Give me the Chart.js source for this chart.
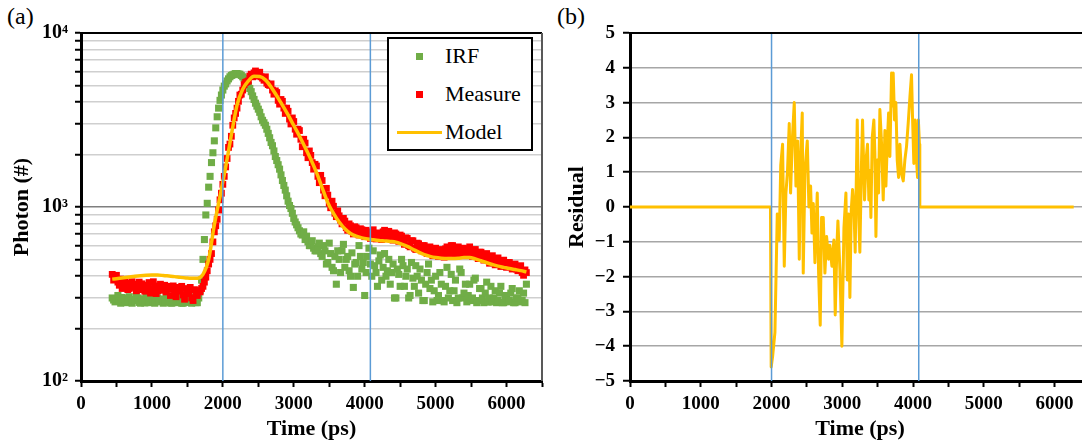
<!DOCTYPE html>
<html lang="en">
<head>
<meta charset="utf-8">
<title>IRF, measured decay, model and residual</title>
<script src="https://cdn.jsdelivr.net/npm/chart.js@4.4.1/dist/chart.umd.min.js"></script>
<style>
  html, body { margin: 0; padding: 0; background: #fff; }
  body {
    position: relative;
    width: 1082px;
    height: 448px;
    overflow: hidden;
    font-family: 'Liberation Serif', 'Times New Roman', serif;
    color: #000;
  }
  canvas { position: absolute; top: 0; }
  #fitChart { left: 0; }
  #residualChart { left: 548px; }
  .panel-tag { position: absolute; top: 4px; font-size: 24px; line-height: 24px; }
  .legend {
    position: absolute;
    left: 387px;
    top: 37px;
    width: 142px;
    height: 110px;
    border: 2px solid #000;
    background: #fff;
    font-size: 22px;
  }
  .legend-row { position: absolute; left: 0; right: 0; height: 38px; line-height: 38px; }
  .legend-square { position: absolute; left: 27px; top: 15.5px; width: 7px; height: 7px; }
  .legend-line { position: absolute; left: 8px; top: 17.5px; width: 45px; height: 3px; }
  .legend-text { position: absolute; left: 56px; top: 0; }
</style>
</head>
<body>
<div class="panel-tag" style="left: 7px;">(a)</div>
<div class="panel-tag" style="left: 557px;">(b)</div>
<canvas id="fitChart" width="548" height="448"></canvas>
<canvas id="residualChart" width="548" height="448"></canvas>
<div id="fitLegend" class="legend"></div>

<script>
// time bins (ps) shared by IRF and measured decay
const binStart = 440;
const binWidth = 20;

// IRF photon counts
const irfCounts = [
  300, 292, 285, 296, 310, 288, 280, 302, 295, 284,
  282, 298, 305, 287, 280, 294, 290, 306, 300, 283,
  280, 297, 288, 281, 310, 292, 282, 300, 295, 286,
  280, 303, 300, 289, 285, 296, 280, 284, 305, 291,
  290, 281, 280, 299, 298, 286, 282, 301, 292, 280,
  280, 294, 300, 283, 285, 304, 280, 290, 296, 282,
  282, 300, 330, 380, 500, 650, 900, 1050, 1300, 1500,
  1800, 2050, 2400, 2850, 3300, 3700, 4100, 4400, 4700, 4950,
  5100, 5300, 5450, 5600, 5700, 5750, 5800, 5850, 5850, 5800,
  5800, 5700, 5600, 5500, 5350, 5200, 5000, 4800, 4600, 4350,
  4150, 3950, 3800, 3650, 3500, 3300, 3150, 3050, 2950, 2800,
  2650, 2500, 2350, 2250, 2100, 1950, 1850, 1750, 1650, 1530,
  1420, 1330, 1250, 1160, 1080, 1020, 980, 920, 860, 820,
  790, 760, 730, 700, 690, 720, 650, 680, 630, 600,
  600, 640, 580, 560, 560, 590, 620, 540, 520, 600,
  560, 470, 480, 620, 540, 450, 430, 520, 360, 560,
  500, 420, 560, 610, 450, 500, 520, 430, 400, 545,
  345, 470, 480, 400, 600, 520, 440, 480, 310, 420,
  520, 580, 470, 400, 560, 460, 420, 350, 490, 530,
  380, 450, 540, 400, 430, 500, 360, 420, 470, 300,
  300, 440, 410, 350, 500, 460, 350, 400, 440, 300,
  310, 480, 390, 350, 460, 400, 320, 440, 380, 290,
  290, 360, 420, 470, 340, 380, 285, 330, 400, 290,
  310, 420, 360, 290, 285, 350, 450, 300, 330, 410,
  290, 330, 380, 282, 300, 440, 420, 300, 320, 360,
  285, 310, 360, 290, 300, 380, 390, 282, 290, 340,
  340, 300, 282, 320, 370, 284, 300, 350, 285, 300,
  330, 282, 290, 320, 350, 282, 282, 300, 310, 285,
  290, 320, 340, 282, 282, 300, 300, 330, 285, 290,
  320, 282, 360
];

// measured photon counts, same bins
const measureCounts = [
  410, 380, 395, 405, 370, 355, 385, 340, 350, 378,
  365, 335, 340, 360, 372, 345, 348, 330, 360, 370,
  335, 362, 355, 328, 342, 350, 368, 320, 338, 372,
  352, 318, 330, 345, 360, 332, 345, 355, 325, 340,
  350, 310, 338, 352, 322, 305, 345, 328, 330, 350,
  312, 295, 340, 322, 318, 345, 300, 290, 335, 315,
  310, 330, 325, 340, 350, 370, 395, 430, 470, 500,
  540, 630, 720, 780, 850, 960, 1100, 1200, 1350, 1500,
  1700, 1900, 2200, 2300, 2550, 2950, 3250, 3450, 3700, 4050,
  4400, 4450, 4700, 5050, 5200, 5250, 5300, 5650, 5800, 5600,
  5900, 6050, 5650, 5750, 5950, 5600, 5500, 5350, 5600, 5150,
  5050, 5000, 5100, 4700, 4450, 4650, 4550, 4100, 3900, 4150,
  4050, 3700, 3450, 3700, 3550, 3200, 3000, 3250, 3100, 2800,
  2620, 2800, 2750, 2450, 2220, 2450, 2330, 2050, 1920, 2100,
  1980, 1800, 1650, 1760, 1720, 1500, 1380, 1520, 1420, 1250,
  1160, 1280, 1170, 1050, 990, 1080, 1010, 920, 880, 950,
  890, 840, 800, 860, 830, 760, 735, 800, 780, 725,
  700, 770, 760, 705, 690, 750, 740, 700, 675, 735,
  720, 690, 660, 715, 740, 680, 655, 700, 710, 665,
  650, 720, 735, 690, 660, 725, 700, 670, 645, 710,
  700, 660, 635, 690, 680, 640, 610, 665, 660, 600,
  590, 640, 640, 580, 570, 620, 615, 575, 560, 600,
  600, 565, 540, 580, 590, 545, 525, 570, 580, 530,
  520, 560, 570, 530, 515, 575, 590, 555, 540, 600,
  600, 560, 520, 585, 590, 545, 530, 580, 575, 535,
  525, 575, 590, 540, 520, 565, 570, 530, 505, 550,
  550, 520, 495, 535, 540, 500, 475, 515, 525, 480,
  465, 505, 510, 470, 455, 490, 495, 460, 450, 480,
  480, 455, 440, 465, 470, 440, 430, 450, 460, 420,
  405, 435, 420
];

// fitted model, sampled every 80 ps from 440 ps
const modelStart = 440;
const modelStep = 80;
const modelCounts = [
  385, 388, 392, 396, 400, 403, 405, 406, 406, 404,
  401, 398, 394, 391, 389, 390, 410, 500, 790, 1150,
  1700, 2600, 3850, 4750, 5300, 5640, 5620, 5380, 4900, 4350,
  3850, 3380, 2940, 2560, 2200, 1880, 1580, 1290, 1060, 920,
  820, 750, 705, 680, 665, 655, 648, 642, 638, 634,
  628, 612, 594, 572, 550, 532, 520, 512, 508, 506,
  506, 508, 512, 512, 503, 491, 478, 467, 457, 450,
  443, 437, 431, 424
];

// residual of the fit, panel (b)
const residualTimes = [
  0, 1985, 1995, 2015, 2048, 2081, 2109, 2130, 2156, 2180,
  2203, 2225, 2250, 2269, 2293, 2321, 2345, 2368, 2392, 2410,
  2434, 2448, 2472, 2505, 2528, 2552, 2571, 2590, 2613, 2646,
  2665, 2688, 2707, 2731, 2754, 2778, 2806, 2825, 2853, 2881,
  2900, 2924, 2938, 2966, 2994, 3023, 3051, 3070, 3089, 3107,
  3126, 3145, 3164, 3182, 3211, 3234, 3248, 3272, 3286, 3314,
  3335, 3356, 3375, 3390, 3404, 3423, 3446, 3460, 3475, 3494,
  3512, 3531, 3555, 3578, 3602, 3616, 3635, 3654, 3672, 3696,
  3710, 3719, 3738, 3757, 3776, 3795, 3814, 3837, 3861, 3884,
  3908, 3931, 3955, 3978, 3992, 4011, 4030, 4049, 4063, 4075,
  4090, 4095, 6270
];
const residualValues = [
  0, 0, -4.6, -4.3, -3.6, -0.2, -0.95, 1.2, 1.8, -1.7,
  0.4, 1.0, 2.4, 0.4, 1.9, 3.0, 0.6, 1.9, -1.5, 1.45,
  2.7, -1.9, 1.05, 1.9, 0.0, 0.6, -0.75, 0.1, -1.6, 0.4,
  -1.9, -3.4, -0.3, -0.3, -1.9, -0.85, -1.5, -1.1, -1.7, -0.95,
  -3.1, -1.1, -0.4, -1.8, -4.0, -0.6, 0.4, -2.1, -0.2, -2.6,
  -0.1, 0.5, 0.0, -1.3, 2.5, -0.4, -1.3, 1.35, 2.5, 0.2,
  1.35, 1.8, 0.2, 1.05, -0.3, 2.0, 2.5, 1.55, -0.85, 1.35,
  0.4, 2.8, 1.8, 0.2, 2.2, 0.6, 1.8, 2.7, 1.45, 3.85,
  2.9, 3.85, 2.5, 3.0, 1.35, 0.85, 1.8, 0.95, 0.75, 1.35,
  1.75, 2.4, 3.15, 3.8, 2.6, 1.25, 2.5, 1.35, 0.85, 2.5,
  1.8, 0, 0
];

// fit window edges (ps), the two blue markers
const fitWindow = [2000, 4080];

// axes
const timeRange = { min: 0, max: 6500, step: 500, labelEvery: 1000 };
const photonTicks = [
  100, 200, 300, 400, 500, 600, 700, 800, 900,
  1000, 2000, 3000, 4000, 5000, 6000, 7000, 8000, 9000, 10000
];
const photonDecades = { 100: '10\u00B2', 1000: '10\u00B3', 10000: '10\u2074' };
const residualRange = { min: -5, max: 5, step: 1 };

const colors = {
  irf: '#70AD47',
  measure: '#FF0000',
  model: '#FFC000',
  window: '#5B9BD5'
};

const serif = "'Liberation Serif', 'Times New Roman', serif";
Chart.defaults.font.family = serif;
Chart.defaults.color = '#000';

const tickFont = { size: 19, weight: 'bold' };
const titleFont = { size: 22, weight: 'bold' };

function toPoints(values, start, step) {
  return values.map((y, i) => ({ x: start + i * step, y: y }));
}

function windowLines(yMin, yMax) {
  return fitWindow.map((t) => ({
    label: '',
    data: [{ x: t, y: yMin }, { x: t, y: yMax }],
    showLine: true,
    borderColor: colors.window,
    borderWidth: 1.5,
    pointRadius: 0,
    order: 0
  }));
}

function timeAxis() {
  return {
    type: 'linear',
    min: timeRange.min,
    max: timeRange.max,
    afterFit: (scale) => { scale.height = 67; },
    ticks: {
      stepSize: timeRange.step,
      autoSkip: false,
      maxRotation: 0,
      padding: 6,
      font: tickFont,
      callback: (v) => (v % timeRange.labelEvery === 0 ? String(v) : '')
    },
    grid: { drawOnChartArea: false, tickLength: 6, tickWidth: 2, tickColor: '#000' },
    border: { color: '#000', width: 3 },
    title: { display: true, text: 'Time (ps)', font: titleFont, padding: { top: 0, bottom: 5 } }
  };
}

// top and right edges of the plot box
const frame = {
  id: 'frame',
  afterDraw(chart) {
    const { ctx, chartArea } = chart;
    ctx.save();
    ctx.lineWidth = 2;
    ctx.strokeStyle = '#000';
    ctx.beginPath();
    ctx.moveTo(chartArea.left, chartArea.top);
    ctx.lineTo(chartArea.right, chartArea.top);
    ctx.stroke();
    ctx.strokeStyle = '#595959';
    ctx.beginPath();
    ctx.moveTo(chartArea.right, chartArea.top);
    ctx.lineTo(chartArea.right, chartArea.bottom);
    ctx.stroke();
    ctx.restore();
  }
};

const commonOptions = {
  responsive: false,
  animation: false,
  events: [],
  plugins: { legend: { display: false }, tooltip: { enabled: false } }
};

// panel (a)
const fitDatasets = [
  {
    label: 'IRF',
    data: toPoints(irfCounts, binStart, binWidth),
    pointStyle: 'rect',
    pointRadius: 5,
    pointBorderWidth: 0,
    backgroundColor: colors.irf,
    borderColor: colors.irf,
    order: 3
  },
  {
    label: 'Measure',
    data: toPoints(measureCounts, binStart, binWidth),
    pointStyle: 'rect',
    pointRadius: 4.8,
    pointBorderWidth: 0,
    backgroundColor: colors.measure,
    borderColor: colors.measure,
    order: 2
  },
  {
    label: 'Model',
    data: toPoints(modelCounts, modelStart, modelStep),
    showLine: true,
    borderColor: colors.model,
    backgroundColor: colors.model,
    borderWidth: 3.5,
    pointRadius: 0,
    cubicInterpolationMode: 'monotone',
    order: 1
  }
];

new Chart(document.getElementById('fitChart'), {
  type: 'scatter',
  data: {
    datasets: fitDatasets.concat(windowLines(photonTicks[0], photonTicks[photonTicks.length - 1]))
  },
  options: Object.assign({}, commonOptions, {
    layout: { padding: { top: 33, right: 6, left: 0, bottom: 0 } },
    scales: {
      x: timeAxis(),
      y: {
        type: 'logarithmic',
        min: photonTicks[0],
        max: photonTicks[photonTicks.length - 1],
        afterFit: (scale) => { scale.width = 81; },
        afterBuildTicks: (scale) => {
          scale.ticks = photonTicks.map((value) => ({ value: value, major: value in photonDecades }));
        },
        ticks: {
          autoSkip: false,
          padding: 7,
          font: { size: 20, weight: 'bold' },
          callback: (v) => photonDecades[v] || ''
        },
        grid: {
          color: (ctx) => (ctx.tick && photonDecades[ctx.tick.value] ? '#7f7f7f' : '#cfcfcf'),
          lineWidth: 1.5,
          tickLength: 6,
          tickWidth: 2,
          tickColor: '#000'
        },
        border: { color: '#000', width: 3 },
        title: { display: true, text: 'Photon (#)', font: titleFont, padding: { top: 9, bottom: 0 } }
      }
    }
  }),
  plugins: [frame]
});

// panel (b)
new Chart(document.getElementById('residualChart'), {
  type: 'scatter',
  data: {
    datasets: [
      {
        label: 'Residual',
        data: residualTimes.map((t, i) => ({ x: t, y: residualValues[i] })),
        showLine: true,
        borderColor: colors.model,
        backgroundColor: colors.model,
        borderWidth: 3,
        borderJoinStyle: 'round',
        pointRadius: 0,
        order: 1
      }
    ].concat(windowLines(residualRange.min, residualRange.max))
  },
  options: Object.assign({}, commonOptions, {
    layout: { padding: { top: 33, right: 6, left: 0, bottom: 0 } },
    scales: {
      x: timeAxis(),
      y: {
        type: 'linear',
        min: residualRange.min,
        max: residualRange.max,
        afterFit: (scale) => { scale.width = 82; },
        ticks: {
          stepSize: residualRange.step,
          autoSkip: false,
          padding: 8,
          font: tickFont,
          callback: (v) => (v < 0 ? '\u2212' + Math.abs(v) : String(v))
        },
        grid: { color: '#a6a6a6', lineWidth: 1.5, tickLength: 7, tickWidth: 2, tickColor: '#000' },
        border: { color: '#000', width: 3 },
        title: { display: true, text: 'Residual', font: titleFont, padding: { top: 16, bottom: 0 } }
      }
    }
  }),
  plugins: [frame]
});

// legend box inside panel (a)
const legendBox = document.getElementById('fitLegend');
fitDatasets.forEach((ds, i) => {
  const row = document.createElement('div');
  row.className = 'legend-row';
  row.style.top = (i * 38 - 2) + 'px';

  const swatch = document.createElement('span');
  swatch.className = ds.showLine ? 'legend-line' : 'legend-square';
  swatch.style.background = ds.showLine ? ds.borderColor : ds.backgroundColor;

  const text = document.createElement('span');
  text.className = 'legend-text';
  text.textContent = ds.label;

  row.appendChild(swatch);
  row.appendChild(text);
  legendBox.appendChild(row);
});
</script>
</body>
</html>
